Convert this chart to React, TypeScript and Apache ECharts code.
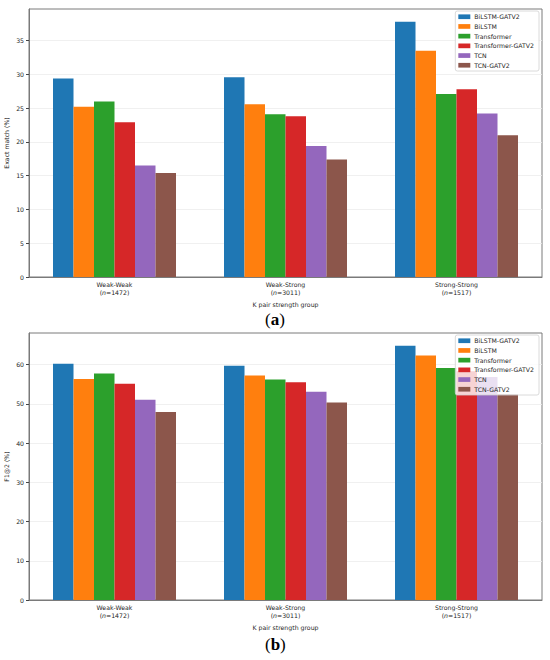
import React, { useEffect, useRef } from "react";
import * as echarts from "echarts";

const groups = ["Weak-Weak", "Weak-Strong", "Strong-Strong"];
const groupCounts = [1472, 3011, 1517];
const models = ["BiLSTM-GATV2", "BiLSTM", "Transformer", "Transformer-GATV2", "TCN", "TCN-GATV2"];
const colors = ["#1f77b4", "#ff7f0e", "#2ca02c", "#d62728", "#9467bd", "#8c564b"];

// Exact match (%)
const emBiLSTMGATV2 = [29.4, 29.6, 37.8];
const emBiLSTM = [25.2, 25.6, 33.5];
const emTransformer = [26.0, 24.1, 27.1];
const emTransformerGATV2 = [22.9, 23.8, 27.8];
const emTCN = [16.5, 19.4, 24.2];
const emTCNGATV2 = [15.4, 17.4, 21.0];

// F1@2 (%)
const f1BiLSTMGATV2 = [60.2, 59.7, 64.8];
const f1BiLSTM = [56.3, 57.2, 62.3];
const f1Transformer = [57.7, 56.2, 59.1];
const f1TransformerGATV2 = [55.1, 55.5, 58.3];
const f1TCN = [51.0, 53.1, 56.8];
const f1TCNGATV2 = [47.9, 50.3, 52.5];

const emTicks = [0, 5, 10, 15, 20, 25, 30, 35];
const f1Ticks = [0, 10, 20, 30, 40, 50, 60];

const emSeries = [emBiLSTMGATV2, emBiLSTM, emTransformer, emTransformerGATV2, emTCN, emTCNGATV2];
const f1Series = [f1BiLSTMGATV2, f1BiLSTM, f1Transformer, f1TransformerGATV2, f1TCN, f1TCNGATV2];

const FONT = "DejaVu Sans";
const FS = 6.2;
const FRAME = "#7a7a7a";
const TXT = "#262626";

function App() {
  const ref = useRef<HTMLDivElement>(null);
  useEffect(() => {
    if (!ref.current) return;
    const chart = echarts.init(ref.current, null, { renderer: "svg" });
    const emMax = Math.max(...emSeries.flat()) * 1.05;
    const f1Max = Math.max(...f1Series.flat()) * 1.05;

    const xAxisFor = (gridIndex: number) => ({
      type: "category",
      gridIndex,
      data: groups,
      boundaryGap: true,
      name: "K pair strength group",
      nameLocation: "middle",
      nameGap: 24,
      nameMoveOverlap: false,
      nameTextStyle: { fontFamily: FONT, fontSize: FS, color: TXT },
      axisLine: { lineStyle: { color: FRAME, width: 1 } },
      axisTick: { alignWithLabel: true, length: 3, lineStyle: { color: "#444" } },
      axisLabel: {
        margin: 3,
        interval: 0,
        formatter: (v: string, i: number) => `{a|${v}}\n{a|(}{i|n}{a|=${groupCounts[i]})}`,
        rich: {
          a: { fontFamily: FONT, fontSize: FS, color: TXT, lineHeight: 8 },
          i: { fontFamily: FONT, fontSize: FS, color: TXT, fontStyle: "italic", lineHeight: 8 },
        },
      },
      splitLine: { show: false },
    });

    const yAxisFor = (gridIndex: number, name: string, max: number, interval: number, ticks: number[]) => ({
      type: "value",
      gridIndex,
      min: 0,
      max,
      interval,
      name,
      nameLocation: "middle",
      nameGap: 20,
      nameMoveOverlap: false,
      nameTextStyle: { fontFamily: FONT, fontSize: FS, color: TXT },
      axisLine: { show: true, lineStyle: { color: FRAME, width: 1 } },
      axisTick: { show: true, length: 3, lineStyle: { color: "#444" }, customValues: ticks },
      axisLabel: {
        margin: 5,
        fontFamily: FONT,
        fontSize: FS,
        color: TXT,
        customValues: ticks,
        formatter: (v: number) => (ticks.indexOf(v) >= 0 ? String(v) : ""),
      },
      splitLine: { show: true, lineStyle: { color: "#ececec", width: 0.8 } },
    });

    const mkSeries = (data: number[][], idx: number) =>
      models.map((m, k) => ({
        type: "bar",
        name: m,
        xAxisIndex: idx,
        yAxisIndex: idx,
        data: data[k],
        barWidth: 20.5,
        barGap: "0%",
        itemStyle: { color: colors[k] },
      }));

    const legendFor = (top: number) => ({
      orient: "vertical",
      right: 11,
      top,
      data: models,
      itemWidth: 12,
      itemHeight: 4.7,
      itemGap: 2.2,
      icon: "rect",
      padding: [2, 5, 2, 3],
      backgroundColor: "rgba(255,255,255,0.8)",
      borderColor: "#d0d0d0",
      borderWidth: 0.8,
      borderRadius: 2,
      textStyle: { fontFamily: FONT, fontSize: FS, color: TXT, lineHeight: 7.5, padding: [0, 0, 0, -1] },
      selectedMode: false,
    });

    const caption = (label: string, y: number) => ({
      type: "text",
      left: 265,
      top: y,
      style: {
        text: `{p|(}{b|${label}}{p|)}`,
        rich: {
          p: { fontFamily: "Liberation Serif", fontSize: 17, fill: "#000" },
          b: { fontFamily: "Liberation Serif", fontSize: 17, fontWeight: "bold", fill: "#000" },
        },
      },
    });

    chart.setOption({
      animation: false,
      backgroundColor: "#fff",
      grid: [
        { left: 29, right: 8, top: 9, height: 268, show: true, borderColor: FRAME, borderWidth: 1, containLabel: false, outerBoundsMode: "none" },
        { left: 29, right: 8, top: 333, height: 267, show: true, borderColor: FRAME, borderWidth: 1, containLabel: false, outerBoundsMode: "none" },
      ],
      xAxis: [xAxisFor(0), xAxisFor(1)],
      yAxis: [
        yAxisFor(0, "Exact match (%)", emMax, 5, emTicks),
        yAxisFor(1, "F1@2 (%)", f1Max, 10, f1Ticks),
      ],
      legend: [legendFor(11), legendFor(335)],
      series: [...mkSeries(emSeries, 0), ...mkSeries(f1Series, 1)],
      graphic: [caption("a", 311), caption("b", 636)],
    });
    return () => chart.dispose();
  }, []);
  return (
    <div
      ref={ref}
      style={{ position: "absolute", left: 0, top: 0, width: 550, height: 660, background: "#fff" }}
    />
  );
}

export default App;
